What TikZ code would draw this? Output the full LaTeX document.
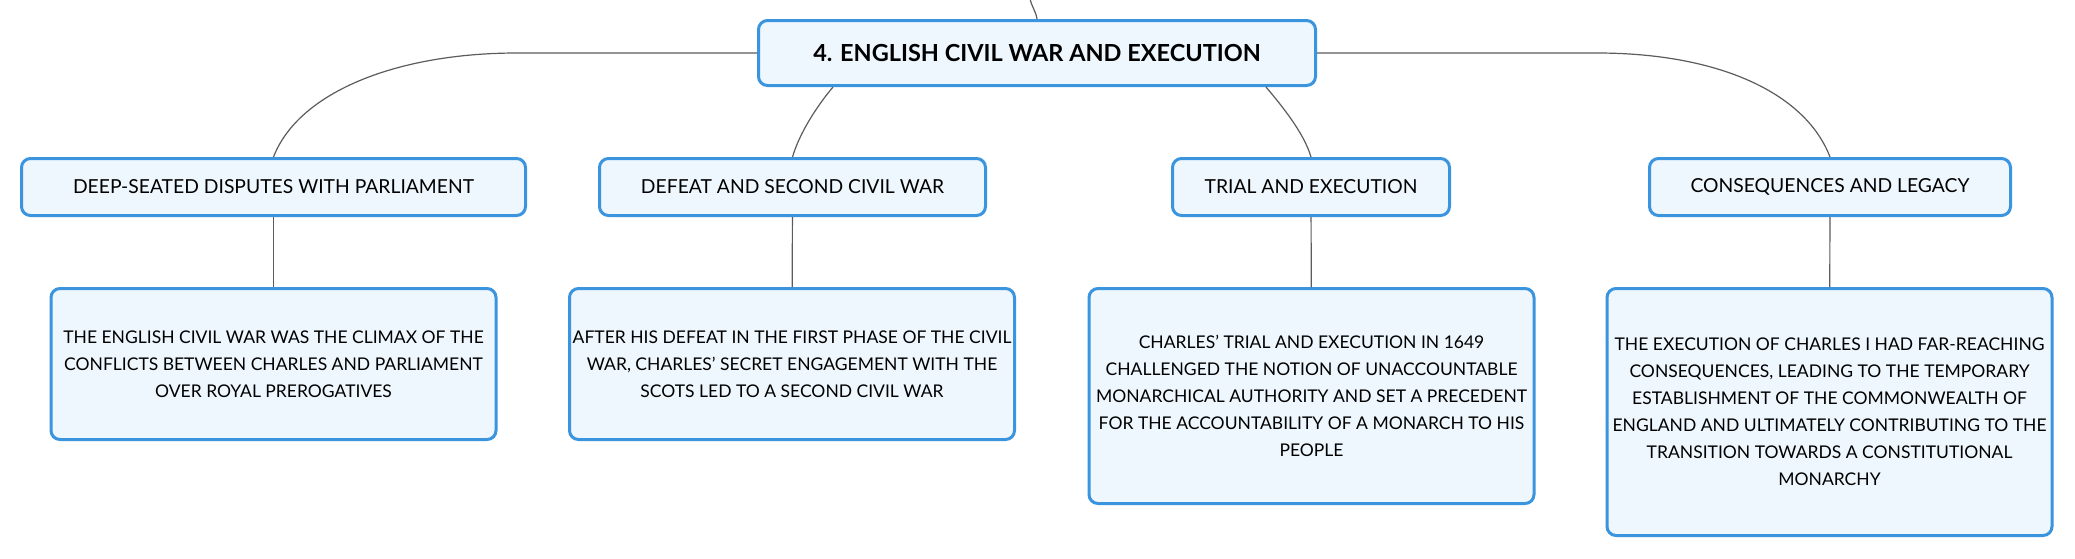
\documentclass[tikz,border=0pt]{standalone}
\usepackage{fontspec}
\setmainfont{Lato}
\definecolor{boxblue}{HTML}{3A94DE}
\definecolor{boxfill}{HTML}{EFF7FE}
\definecolor{linkgray}{HTML}{5C5C5C}

\begin{document}
\begin{tikzpicture}[x=1pt,y=-1pt,
        box/.style={rectangle,rounded corners=9pt,draw=boxblue,fill=boxfill,line width=3pt,inner sep=0pt,align=center},
        root node/.style={box,minimum width=557pt,minimum height=65pt,font=\bfseries\fontsize{23.5}{28}\selectfont},
        topic node/.style={box,minimum height=57pt,font=\fontsize{19.3}{25}\selectfont},
        text node/.style={box,minimum width=445pt,font=\fontsize{17.5}{27}\selectfont},
        link/.style={draw=linkgray,line width=1.2pt}]
    \useasboundingbox[fill=white] (0,0) rectangle (2075,558);
    \coordinate (top) at (1030,-2);
    \node [root node] (root) at (1037,53) {4. ENGLISH CIVIL WAR AND EXECUTION};
    % topics
    \node [topic node, minimum width=504pt] (disputes) at (273.5,187) {DEEP-SEATED DISPUTES WITH PARLIAMENT};
    \node [topic node, minimum width=386pt] (defeat) at (792.5,187) {DEFEAT AND SECOND CIVIL WAR};
    \node [topic node, minimum width=277pt] (trial) at (1311,187) {TRIAL AND EXECUTION};
    \node [topic node, minimum width=361pt] (legacy) at (1830,187) {CONSEQUENCES AND LEGACY};
    % details
    \node [text node, minimum height=151pt] (disputestext) at (273.5,364) {THE ENGLISH CIVIL WAR WAS THE CLIMAX OF THE\\CONFLICTS BETWEEN CHARLES AND PARLIAMENT\\OVER ROYAL PREROGATIVES};
    \node [text node, minimum height=151pt] (defeattext) at (792,364) {AFTER HIS DEFEAT IN THE FIRST PHASE OF THE CIVIL\\WAR, CHARLES' SECRET ENGAGEMENT WITH THE\\SCOTS LED TO A SECOND CIVIL WAR};
    \node [text node, minimum height=215pt] (trialtext) at (1311.5,396) {CHARLES' TRIAL AND EXECUTION IN 1649\\CHALLENGED THE NOTION OF UNACCOUNTABLE\\MONARCHICAL AUTHORITY AND SET A PRECEDENT\\FOR THE ACCOUNTABILITY OF A MONARCH TO HIS\\PEOPLE};
    \node [text node, minimum height=247pt] (legacytext) at (1829.5,412) {THE EXECUTION OF CHARLES I HAD FAR-REACHING\\CONSEQUENCES, LEADING TO THE TEMPORARY\\ESTABLISHMENT OF THE COMMONWEALTH OF\\ENGLAND AND ULTIMATELY CONTRIBUTING TO THE\\TRANSITION TOWARDS A CONSTITUTIONAL\\MONARCHY};
    % links
    \draw [link] (root.north) .. controls +(-1,-8) and +(1,8) .. (top);
    \draw [link] (root.west) -- ++(-240,0) .. controls +(-120,0) and +(25,-65) .. (disputes.north);
    \draw [link] (root.east) -- ++(280,0) .. controls +(120,0) and +(-25,-65) .. (legacy.north);
    \draw [link] ([xshift=-204pt]root.south) .. controls +(-16,19) and +(7,-24) .. (defeat.north);
    \draw [link] ([xshift=229pt]root.south) .. controls +(16,19) and +(-7,-24) .. (trial.north);
    \path [link]
        (disputes) edge (disputestext)
        (defeat) edge (defeattext)
        (trial) edge (trialtext)
        (legacy) edge (legacytext);
\end{tikzpicture}
\end{document}
